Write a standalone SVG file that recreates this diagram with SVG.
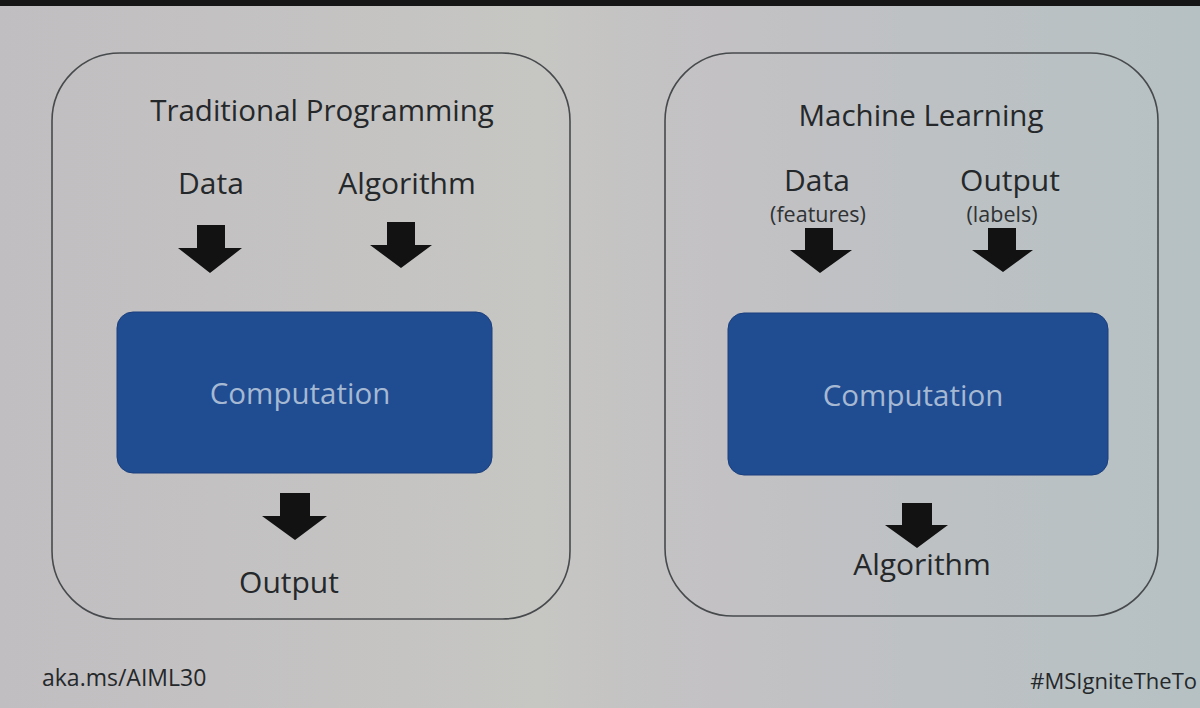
<svg xmlns="http://www.w3.org/2000/svg" width="1200" height="708" viewBox="0 0 1200 708">
  <defs>
    <linearGradient id="bg" x1="0" y1="0" x2="1" y2="0">
      <stop offset="0" stop-color="#c1bec1"/>
      <stop offset="0.45" stop-color="#c6c6c3"/>
      <stop offset="0.6" stop-color="#c3c1c4"/>
      <stop offset="1" stop-color="#b6c1c3"/>
    </linearGradient>
    <style>
      .panel { fill: none; stroke: #474a4c; stroke-width: 1.6; }
      .comp { fill: #204c92; stroke: #1a3f7c; stroke-width: 1; }
      .comptxt { font-family: "Open Sans", "Noto Sans", sans-serif; font-size: 29.5px; fill: #a6b9d3; text-anchor: middle; }
      .title { font-family: "Open Sans", "Noto Sans", sans-serif; font-size: 29.5px; fill: #25282a; text-anchor: middle; }
      .lbl { font-family: "Open Sans", "Noto Sans", sans-serif; font-size: 30px; fill: #25282a; text-anchor: middle; }
      .sub { font-family: "Open Sans", "Noto Sans", sans-serif; font-size: 21.5px; fill: #2f3234; text-anchor: middle; }
      .foot { font-family: "Open Sans", "Noto Sans", sans-serif; font-size: 23px; fill: #25282a; }
      .foot-r { font-family: "Open Sans", "Noto Sans", sans-serif; font-size: 22px; fill: #25282a; text-anchor: end; }
      .arrow { fill: #121212; }
    </style>
  </defs>

  <rect x="0" y="0" width="1200" height="708" fill="url(#bg)"/>
  <rect x="0" y="0" width="1200" height="6" fill="#161616"/>

  <g id="panel-traditional">
    <rect class="panel" x="52" y="53" width="518" height="566" rx="68" ry="68"/>
    <text class="title" x="322" y="121">Traditional Programming</text>
  </g>

  <g id="panel-ml">
    <rect class="panel" x="665" y="53" width="493" height="563" rx="68" ry="68"/>
    <text class="title" x="921" y="126">Machine Learning</text>
  </g>

  <g id="tp-data">
    <text class="lbl" x="211" y="194">Data</text>
  </g>
  <g id="tp-algorithm">
    <text class="lbl" x="407" y="194">Algorithm</text>
  </g>
  <g id="tp-computation">
    <rect class="comp" x="117" y="312" width="375" height="161" rx="16" ry="16"/>
    <text class="comptxt" x="300" y="404">Computation</text>
  </g>
  <g id="tp-output">
    <text class="lbl" x="289" y="593">Output</text>
  </g>

  <g id="ml-data">
    <text class="lbl" x="817" y="191">Data</text>
    <text class="sub" x="818" y="222">(features)</text>
  </g>
  <g id="ml-output">
    <text class="lbl" x="1010" y="191">Output</text>
    <text class="sub" x="1002" y="222">(labels)</text>
  </g>
  <g id="ml-computation">
    <rect class="comp" x="728" y="313" width="380" height="162" rx="16" ry="16"/>
    <text class="comptxt" x="913" y="406">Computation</text>
  </g>
  <g id="ml-algorithm">
    <text class="lbl" x="922" y="575">Algorithm</text>
  </g>

  <g id="connectors">
    <polygon class="arrow" points="197,225 225,225 225,248 242,248 210,273 178,248 197,248"/>
    <polygon class="arrow" points="387,222 415,222 415,245 432,245 401,268 370,245 387,245"/>
    <polygon class="arrow" points="805,228 833,228 833,250 852,250 820,273 790,250 805,250"/>
    <polygon class="arrow" points="988,228 1016,228 1016,250 1033,250 1003,272 972,250 988,250"/>
    <polygon class="arrow" points="280,493 310,493 310,516 327,516 295,540 262,516 280,516"/>
    <polygon class="arrow" points="902,503 932,503 932,525 948,525 917,548 885,525 902,525"/>
  </g>

  <g id="footer">
    <text class="foot" x="42" y="686">aka.ms/AIML30</text>
    <text class="foot-r" x="1197" y="689">#MSIgniteTheTo</text>
  </g>
</svg>
